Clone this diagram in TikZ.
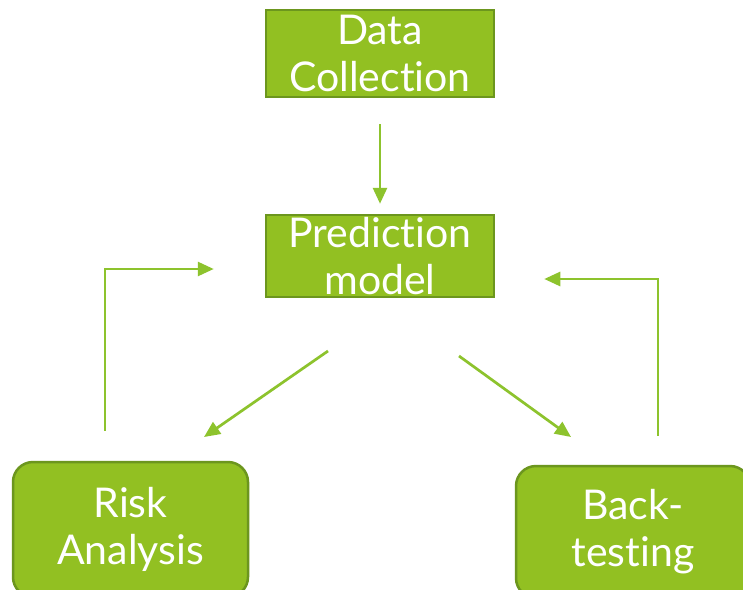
\documentclass[tikz,border=0pt]{standalone}
\usepackage{fontspec}
\setmainfont[RawFeature={-liga}]{Lato}
\usetikzlibrary{arrows.meta}
\definecolor{boxfill}{RGB}{146,192,34}
\definecolor{boxline}{RGB}{108,150,30}
\definecolor{arrcol}{RGB}{141,195,45}
\tikzset{
  sqbox/.style={draw=boxline, fill=boxfill, line width=2.5pt, text=white, align=center,
    font=\fontsize{41}{47}\selectfont, inner sep=0pt},
  rdbox/.style={sqbox, rounded corners=20pt},
  arr/.style={draw=arrcol, line width=2.7pt, -{Triangle[length=16pt,width=14pt]}}
}
\begin{document}
\begin{tikzpicture}[x=1pt,y=-1pt]
\clip (0,0) rectangle (743,589);
\fill[white] (0,0) rectangle (743,589);
\node[sqbox, minimum width=228pt, minimum height=87pt] (data) at (380,53.5) {Data\\Collection};
\node[sqbox, minimum width=228pt, minimum height=82pt] (pred) at (380,256) {Prediction\\model};
\node[rdbox, minimum width=235pt, minimum height=135pt] (risk) at (130.5,529.5) {Risk\\Analysis};
\node[rdbox, minimum width=234pt, minimum height=132pt] (back) at (633,532) {Back-\\testing};
\coordinate (lk) at (105,269);
\coordinate (rk) at (658,279);
\coordinate (d1s) at (328,351);
\coordinate (d1e) at (204,437);
\coordinate (d2s) at (459,356);
\coordinate (d2e) at (571,437);
\draw[arr, shorten <=26pt, shorten >=10pt] (data.south) -- (pred.north);
\draw[arr, shorten <=30pt, shorten >=51pt] (risk.north -| lk) |- (pred.west |- lk);
\draw[arr, shorten <=29pt, shorten >=49pt] (back.north -| rk) |- (pred.east |- rk);
\draw[arr] (d1s) -- (d1e);
\draw[arr] (d2s) -- (d2e);
\end{tikzpicture}
\end{document}
